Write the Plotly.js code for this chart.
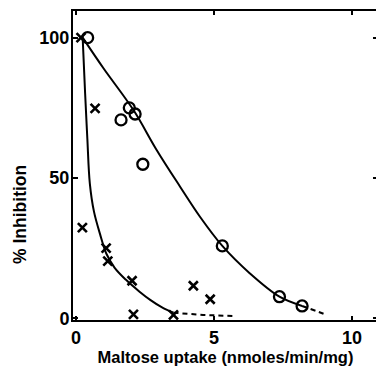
<!DOCTYPE html>
<html>
<head>
<meta charset="utf-8">
<script src="https://cdn.plot.ly/plotly-3.0.1.min.js"></script>
<style>
html,body{margin:0;padding:0;overflow:hidden;background:#fff;width:376px;height:366px;}
#chart{width:392px;height:366px;}
</style>
</head>
<body>
<div id="chart"></div>
<script>
// Open circles
const circleX = [0.42, 1.63, 1.93, 2.14, 2.42, 5.3, 7.37, 8.19];
const circleY = [100, 70.7, 75, 72.8, 54.9, 25.8, 7.7, 4.4];
// Crosses
const crossX = [0.18, 0.69, 0.23, 1.09, 1.15, 2.03, 4.25, 4.86, 2.08, 3.53];
const crossY = [100, 74.8, 32.3, 25, 20.4, 13.4, 11.6, 6.8, 1.4, 1.2];
// Fitted curve through circles (solid then dashed)
const circleCurveX = [0.24, 1.0, 2.08, 2.92, 3.77, 4.49, 5.3, 6.3, 7.37, 8.19];
const circleCurveY = [100, 89, 74.2, 60, 46.9, 36.2, 25.8, 16, 7.7, 4.4];
const circleDashX = [8.19, 8.7, 9.08];
const circleDashY = [4.4, 2.6, 1.2];
// Fitted curve through crosses (solid then dashed)
const crossCurveX = [0.24, 0.33, 0.41, 0.5, 0.65, 0.87, 1.1, 1.4, 1.8, 2.3, 2.7, 3.1, 3.53];
const crossCurveY = [100, 80, 64, 48, 38, 30, 23, 18, 13.8, 9.5, 6.5, 4, 2];
const crossDashX = [3.53, 4.6, 5.7];
const crossDashY = [2, 1.2, 0.8];
// Ticks
const xTicks = [0, 5, 10];
const yTicks = [0, 50, 100];
const xTitle = 'Maltose uptake (nmoles/min/mg)';
const yTitle = '% Inhibition';

const F = "Liberation Sans Narrow, Arial Narrow, sans-serif";
const traces = [
  {x: circleCurveX, y: circleCurveY, mode: 'lines', line: {color: '#000', width: 2, shape: 'spline'}, hoverinfo: 'skip'},
  {x: circleDashX, y: circleDashY, mode: 'lines', line: {color: '#000', width: 2, dash: '5px,4px', shape: 'spline'}, hoverinfo: 'skip'},
  {x: crossCurveX, y: crossCurveY, mode: 'lines', line: {color: '#000', width: 2, shape: 'spline'}, hoverinfo: 'skip'},
  {x: crossDashX, y: crossDashY, mode: 'lines', line: {color: '#000', width: 2, dash: '5px,4px'}, hoverinfo: 'skip'},
  {x: circleX, y: circleY, mode: 'markers', marker: {symbol: 'circle-open', size: 11, color: '#000', line: {width: 2.3, color: '#000'}}},
  {x: crossX, y: crossY, mode: 'markers', marker: {symbol: 'x-thin-open', size: 9, color: '#000', line: {width: 2.6, color: '#000'}}}
];

const layout = {
  width: 392, height: 366,
  margin: {l: 73, r: 14, t: 11, b: 46},
  paper_bgcolor: '#fff', plot_bgcolor: '#fff',
  showlegend: false,
  font: {family: F, color: '#000'},
  xaxis: {
    range: [-0.11, 10.94], tickvals: xTicks, ticktext: xTicks.map(String),
    ticks: 'inside', ticklen: 4, tickwidth: 2, tickcolor: '#000',
    showline: true, linewidth: 2, linecolor: '#000', mirror: 'ticks',
    showgrid: false, zeroline: false,
    tickfont: {family: F, size: 18, color: '#000', weight: 'bold'},
    title: {text: xTitle, font: {family: F, size: 16.5, color: '#000', weight: 'bold'}, standoff: 10}
  },
  yaxis: {
    range: [-0.6, 109.5], tickvals: yTicks, ticktext: yTicks.map(String),
    ticks: 'inside', ticklen: 5, tickwidth: 2, tickcolor: '#000',
    showline: true, linewidth: 2, linecolor: '#000', mirror: 'ticks',
    showgrid: false, zeroline: false,
    tickfont: {family: F, size: 18, color: '#000', weight: 'bold'},
    ticklabelstandoff: -2
  },
  annotations: [{
    text: yTitle, xref: 'paper', yref: 'paper', x: -0.174, y: 0.343,
    xanchor: 'center', yanchor: 'middle', textangle: -90, showarrow: false,
    font: {family: F, size: 17.5, color: '#000', weight: 'bold'}
  }]
};
Plotly.newPlot('chart', traces, layout, {staticPlot: true, displayModeBar: false});
</script>
</body>
</html>
